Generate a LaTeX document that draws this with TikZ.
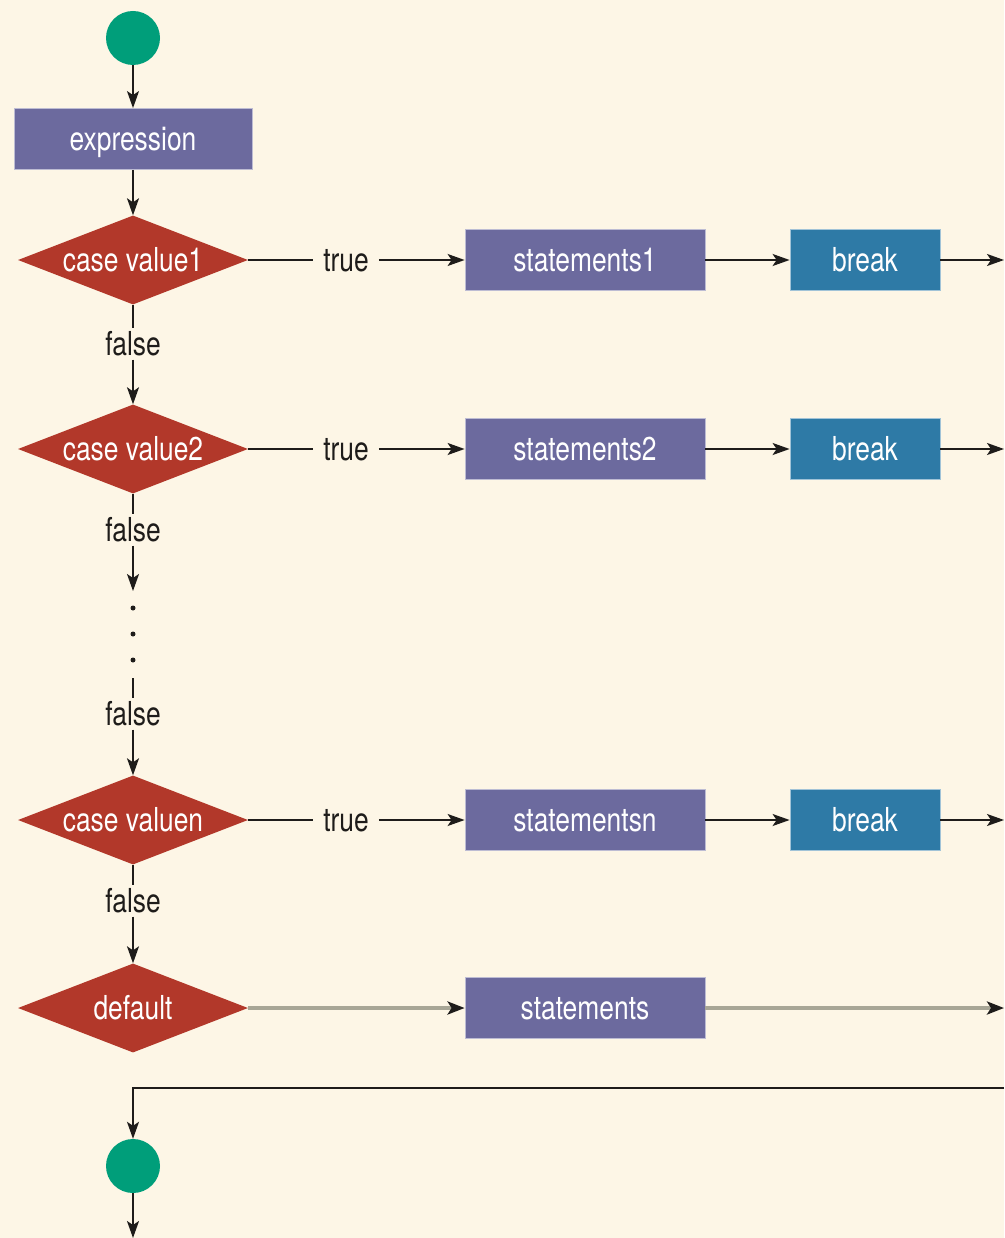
\documentclass[tikz,border=0pt]{standalone}
\usepackage{fontspec}
\setmainfont[FakeStretch=0.8]{TeX Gyre Heros}
\usetikzlibrary{shapes.geometric,arrows.meta}
\definecolor{bg}{RGB}{253,246,230}
\definecolor{actbox}{RGB}{108,106,158}
\definecolor{brkbox}{RGB}{46,122,166}
\definecolor{decfill}{RGB}{178,56,42}
\definecolor{termfill}{RGB}{0,158,122}
\definecolor{flowgray}{RGB}{168,166,150}
\definecolor{ink}{RGB}{30,28,26}
\tikzset{
  base/.style={font=\fontsize{33}{39}\selectfont},
  act/.style={rectangle, fill=actbox, draw=white!55!actbox, line width=0.8pt,
    text=white, minimum width=240pt, minimum height=61pt, inner sep=0pt,
    text height=23pt, text depth=0pt},
  brk/.style={act, fill=brkbox, draw=white!55!brkbox, minimum width=150pt},
  dec/.style={diamond, fill=decfill, text=white, minimum width=230pt,
    minimum height=89pt, inner sep=0pt, shape aspect=2.58,
    text height=23pt, text depth=0pt},
  term/.style={circle, fill=termfill, minimum size=54pt, inner sep=0pt},
  lbl/.style={inner xsep=10pt, inner ysep=4pt, text height=23pt, text depth=0pt, text=ink},
  dot/.style={circle, fill=ink, minimum size=5pt, inner sep=0pt},
  plain/.style={line width=1.6pt, draw=ink},
  flow/.style={plain, -{Stealth[length=17pt,width=12pt,inset=4pt]}},
  grayflow/.style={line width=3.5pt, draw=flowgray,
    -{Stealth[length=17pt,width=13pt,inset=4pt,color=ink]}}
}
\begin{document}
\begin{tikzpicture}[x=1pt, y=-1pt, base]
\useasboundingbox[fill=bg] (0,0) rectangle (1004,1238);

% nodes
\node[term] (start) at (133,38) {};
\node[act, minimum width=238pt] (expr) at (133,139) {expression};

\node[dec] (c1) at (133,260) {case value1};
\node[lbl] (t1) at (346,260) {true};
\node[act] (s1) at (585,260) {statements1};
\node[brk] (b1) at (865,260) {break};
\coordinate (x1) at (1004,260);
\node[lbl] (f1) at (133,344) {false};

\node[dec] (c2) at (133,449) {case value2};
\node[lbl] (t2) at (346,449) {true};
\node[act] (s2) at (585,449) {statements2};
\node[brk] (b2) at (865,449) {break};
\coordinate (x2) at (1004,449);
\node[lbl] (f2) at (133,530) {false};

\coordinate (g1) at (133,591);
\node[dot] (p1) at (133,608) {};
\node[dot] (p2) at (133,634) {};
\node[dot] (p3) at (133,660) {};
\coordinate (g2) at (133,678);
\node[lbl] (f3) at (133,714) {false};

\node[dec] (cn) at (133,820) {case valuen};
\node[lbl] (tn) at (346,820) {true};
\node[act] (sn) at (585,820) {statementsn};
\node[brk] (bn) at (865,820) {break};
\coordinate (xn) at (1004,820);
\node[lbl] (f4) at (133,901) {false};

\node[dec] (dflt) at (133,1008) {default};
\node[act] (sd) at (585,1008) {statements};
\coordinate (xd) at (1004,1008);

\coordinate (ret) at (1004,1088);
\coordinate (turn) at (133,1088);
\node[term] (stop) at (133,1166) {};
\coordinate (out) at (133,1238);

% connectors
\draw[flow] (start) -- (expr);
\draw[flow] (expr) -- (c1);

\draw[plain] (c1.east) -- (t1.west);
\draw[flow] (t1.east) -- (s1.west);
\draw[flow] (s1) -- (b1);
\draw[flow] (b1) -- (x1);
\draw[plain] (c1.south) -- (f1.north);
\draw[flow] (f1.south) -- (c2.north);

\draw[plain] (c2.east) -- (t2.west);
\draw[flow] (t2.east) -- (s2.west);
\draw[flow] (s2) -- (b2);
\draw[flow] (b2) -- (x2);
\draw[plain] (c2.south) -- (f2.north);
\draw[flow] (f2.south) -- (g1);

\draw[plain] (g2) -- (f3.north);
\draw[flow] (f3.south) -- (cn.north);

\draw[plain] (cn.east) -- (tn.west);
\draw[flow] (tn.east) -- (sn.west);
\draw[flow] (sn) -- (bn);
\draw[flow] (bn) -- (xn);
\draw[plain] (cn.south) -- (f4.north);
\draw[flow] (f4.south) -- (dflt.north);

\draw[grayflow] (dflt.east) -- (sd.west);
\draw[grayflow] (sd.east) -- (xd);

\draw[flow] (ret) -- (turn) -- (stop);
\draw[flow] (stop) -- (out);
\end{tikzpicture}
\end{document}
